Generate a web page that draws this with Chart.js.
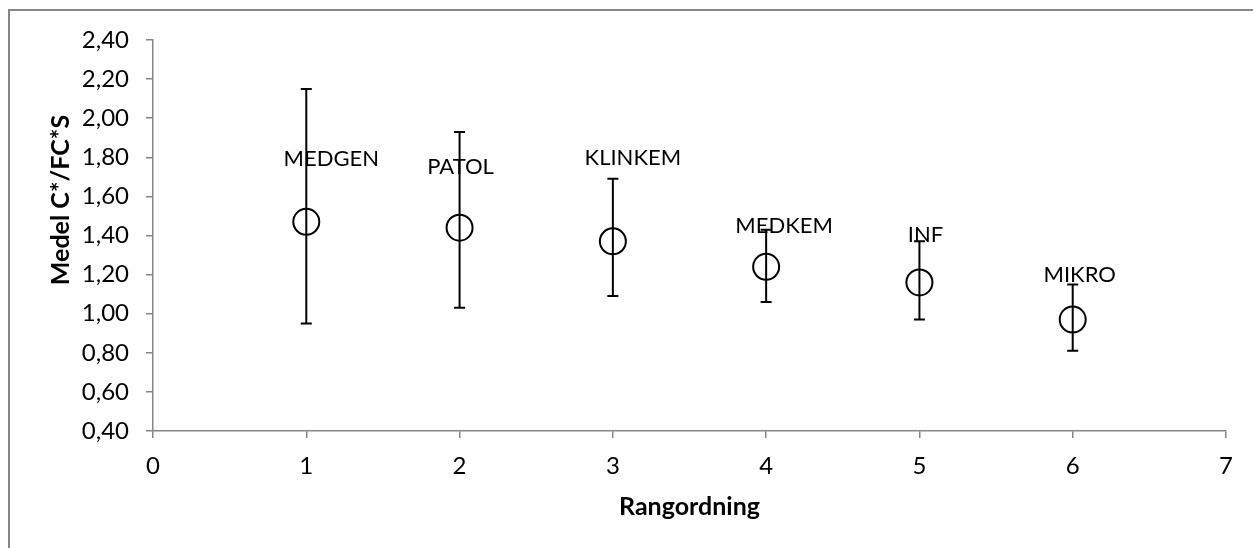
<!DOCTYPE html>
<html>
<head>
<meta charset="utf-8">
<script src="https://cdn.jsdelivr.net/npm/chart.js@4/dist/chart.umd.min.js"></script>
<style>
  html, body { margin: 0; padding: 0; background: #fff; }
  #wrap { position: relative; width: 1253px; height: 548px; }
  #frame { position: absolute; left: 8px; top: 9px; width: 1300px; height: 600px; border-left: 2px solid #868686; border-top: 2px solid #868686; box-sizing: border-box; pointer-events: none; }
</style>
</head>
<body>
<div id="wrap">
  <canvas id="c" width="1253" height="548"></canvas>
  <div id="frame"></div>
</div>
<script>
// ---- data ----
const categories = ["MEDGEN", "PATOL", "KLINKEM", "MEDKEM", "INF", "MIKRO"];
const ranks = [1, 2, 3, 4, 5, 6];
const means = [1.47, 1.44, 1.37, 1.24, 1.16, 0.97];
const errHigh = [2.15, 1.93, 1.69, 1.43, 1.37, 1.15];
const errLow = [0.95, 1.03, 1.09, 1.06, 0.97, 0.81];
const xTicks = [0, 1, 2, 3, 4, 5, 6, 7];
const yTicks = [0.4, 0.6, 0.8, 1.0, 1.2, 1.4, 1.6, 1.8, 2.0, 2.2, 2.4];

// label placement offsets (pixels, relative to each marker)
const labelOffsets = [[25, -63], [1, -61], [20, -83], [18, -41], [6, -48], [7, -45]];

const FONT = "Lato, 'Open Sans', sans-serif";

const errorBarPlugin = {
  id: 'errorBars',
  afterDatasetsDraw(chart) {
    const ctx = chart.ctx;
    const xs = chart.scales.x, ys = chart.scales.y;
    ctx.save();
    ctx.strokeStyle = '#000';
    ctx.lineWidth = 2;
    ranks.forEach((r, i) => {
      const px = xs.getPixelForValue(r);
      const top = ys.getPixelForValue(errHigh[i]);
      const bot = ys.getPixelForValue(errLow[i]);
      ctx.beginPath();
      ctx.moveTo(px, top); ctx.lineTo(px, bot);
      ctx.moveTo(px - 5.5, top); ctx.lineTo(px + 5.5, top);
      ctx.moveTo(px - 5.5, bot); ctx.lineTo(px + 5.5, bot);
      ctx.stroke();
    });
    // data labels
    ctx.fillStyle = '#000';
    ctx.font = '22px ' + FONT;
    ctx.textAlign = 'center';
    ctx.textBaseline = 'middle';
    ranks.forEach((r, i) => {
      const px = xs.getPixelForValue(r);
      const py = ys.getPixelForValue(means[i]);
      ctx.fillText(categories[i], px + labelOffsets[i][0], py + labelOffsets[i][1]);
    });
    // axis titles
    ctx.font = 'bold 25px ' + FONT;
    ctx.fillText('Rangordning', (xs.left + xs.right) / 2, 507);
    ctx.translate(61, 200);
    ctx.rotate(-Math.PI / 2);
    ctx.fillText('Medel C*/FC*S', 0, 0);
    ctx.restore();
  }
};

new Chart(document.getElementById('c'), {
  type: 'scatter',
  data: {
    datasets: [{
      data: ranks.map((r, i) => ({ x: r, y: means[i] })),
      pointStyle: 'circle',
      pointRadius: 13,
      pointHoverRadius: 13,
      pointBorderWidth: 2,
      pointBorderColor: '#000',
      pointBackgroundColor: 'rgba(255,255,255,0)',
      showLine: false
    }]
  },
  options: {
    responsive: false,
    animation: false,
    events: [],
    layout: { padding: { left: 0, right: 27, top: 40, bottom: 0 } },
    plugins: { legend: { display: false }, tooltip: { enabled: false } },
    scales: {
      x: {
        type: 'linear',
        min: 0, max: 7,
        afterBuildTicks: s => { s.ticks = xTicks.map(v => ({ value: v })); },
        afterFit: s => { s.height = 117; },
        grid: { drawOnChartArea: false, drawTicks: true, tickLength: 7, color: '#868686', lineWidth: 1.5 },
        border: { color: '#868686', width: 1.5 },
        ticks: { color: '#000', font: { family: FONT, size: 24 }, padding: 14, maxRotation: 0, callback: v => String(v) }
      },
      y: {
        type: 'linear',
        min: 0.4, max: 2.4,
        afterBuildTicks: s => { s.ticks = yTicks.map(v => ({ value: v })); },
        afterFit: s => { s.width = 153; },
        grid: { drawOnChartArea: false, drawTicks: true, tickLength: 7, color: '#868686', lineWidth: 1.5 },
        border: { color: '#868686', width: 1.5 },
        ticks: { color: '#000', font: { family: FONT, size: 24 }, padding: 17, callback: v => v.toFixed(2).replace('.', ',') }
      }
    }
  },
  plugins: [errorBarPlugin]
});
</script>
</body>
</html>
